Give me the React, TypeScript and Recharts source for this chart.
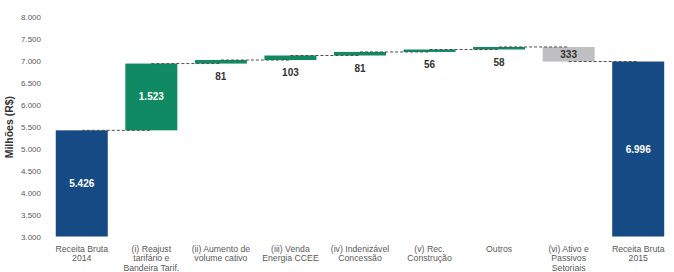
import React from 'react';
import { BarChart, Bar, XAxis, YAxis, ReferenceLine, Label } from 'recharts';

const categories = [
  'Receita Bruta\n2014',
  '(i) Reajust\ntarifário e\nBandeira Tarif.',
  '(ii) Aumento de\nvolume cativo',
  '(iii) Venda\nEnergia CCEE',
  '(iv) Indenizável\nConcessão',
  '(v) Rec.\nConstrução',
  'Outros',
  '(vi) Ativo e\nPassivos\nSetoriais',
  'Receita Bruta\n2015',
];
const values = [5426, 1523, 81, 103, 81, 56, 58, -333, 6996];
const kinds = ['total', 'up', 'up', 'up', 'up', 'up', 'up', 'down', 'total'];
const yTicks = [3000, 3500, 4000, 4500, 5000, 5500, 6000, 6500, 7000, 7500, 8000];

const COLORS: Record<string, string> = { total: '#164a85', up: '#0f8a62', down: '#bfbfc1' };
const FONT = '"Liberation Sans", Arial, sans-serif';

const fmt = (v: number) => {
  const s = Math.round(Math.abs(v)).toString();
  return s.replace(/\B(?=(\d{3})+(?!\d))/g, '.');
};

// Build waterfall rows
const rows: any[] = [];
const levels: number[] = [];
let running = 0;
categories.forEach((cat, i) => {
  const v = values[i];
  const k = kinds[i];
  let base = 0;
  let delta = 0;
  if (k === 'total') {
    base = 0;
    delta = v;
    running = v;
  } else if (v >= 0) {
    base = running;
    delta = v;
    running = running + v;
  } else {
    running = running + v;
    base = running;
    delta = -v;
  }
  levels.push(running);
  rows.push({ cat, base, delta, kind: k, label: fmt(v), big: Math.abs(v) > 300 });
});

const WaterfallShape = (props: any) => {
  const { x, y, width, height, payload } = props;
  const color = COLORS[payload.kind];
  const cx = x + width / 2;
  let label: React.ReactNode = null;
  if (payload.kind === 'total' || (payload.kind === 'up' && payload.big)) {
    label = (
      <text x={cx} y={y + height / 2} textAnchor="middle" dominantBaseline="central"
        fill="#ffffff" fontSize={10} fontWeight="bold" fontFamily={FONT}>{payload.label}</text>
    );
  } else if (payload.kind === 'down') {
    label = (
      <text x={cx} y={y + height / 2} textAnchor="middle" dominantBaseline="central"
        fill="#333333" fontSize={10} fontWeight="bold" fontFamily={FONT}>{payload.label}</text>
    );
  } else {
    label = (
      <text x={cx} y={y + height + 12.5} textAnchor="middle" dominantBaseline="central"
        fill="#333333" fontSize={10} fontWeight="bold" fontFamily={FONT}>{payload.label}</text>
    );
  }
  return (
    <g>
      <rect x={x} y={y} width={width} height={Math.max(height, 0)} fill={color} />
      {label}
    </g>
  );
};

const XTick = (props: any) => {
  const { x, y, payload } = props;
  const lines = String(payload.value).split('\n');
  return (
    <text x={x} y={y + 15.3} textAnchor="middle" fill="#595959" fontSize={8.7} fontFamily={FONT}>
      {lines.map((ln, i) => (
        <tspan key={i} x={x} dy={i === 0 ? 0 : 9.3}>{ln}</tspan>
      ))}
    </text>
  );
};

export default function App() {
  return (
    <div style={{ position: 'absolute', left: 0, top: 0, width: 674, height: 272, background: '#fff' }}>
      <BarChart width={674} height={272} data={rows}
        margin={{ top: 17.5, right: 1, bottom: 0.3, left: 0 }}
        barCategoryGap="12.6%">
        <XAxis dataKey="cat" axisLine={false} tickLine={false} tickSize={0} tickMargin={0}
          height={35} interval={0} tick={<XTick />} />
        <YAxis domain={[3000, 8000]} ticks={yTicks} allowDataOverflow width={47}
          axisLine={false} tickLine={false} tickSize={0} tickMargin={6}
          tickFormatter={fmt}
          tick={{ fill: '#595959', fontSize: 8, fontFamily: FONT }}>
          <Label value="Milhões (R$)" angle={-90} position="insideLeft" offset={9}
            style={{ fill: '#333333', fontSize: 10.5, fontWeight: 'bold', fontFamily: FONT, textAnchor: 'middle' }} />
        </YAxis>
        <Bar dataKey="base" stackId="w" fill="transparent" isAnimationActive={false} />
        <Bar dataKey="delta" stackId="w" isAnimationActive={false} shape={<WaterfallShape />} />
        {levels.slice(0, -1).map((lv, i) => (
          <ReferenceLine key={i} segment={[{ x: categories[i], y: lv }, { x: categories[i + 1], y: lv }]}
            stroke="#4d4d4d" strokeDasharray="3 2" strokeWidth={1} ifOverflow="visible" />
        ))}
      </BarChart>
    </div>
  );
}
